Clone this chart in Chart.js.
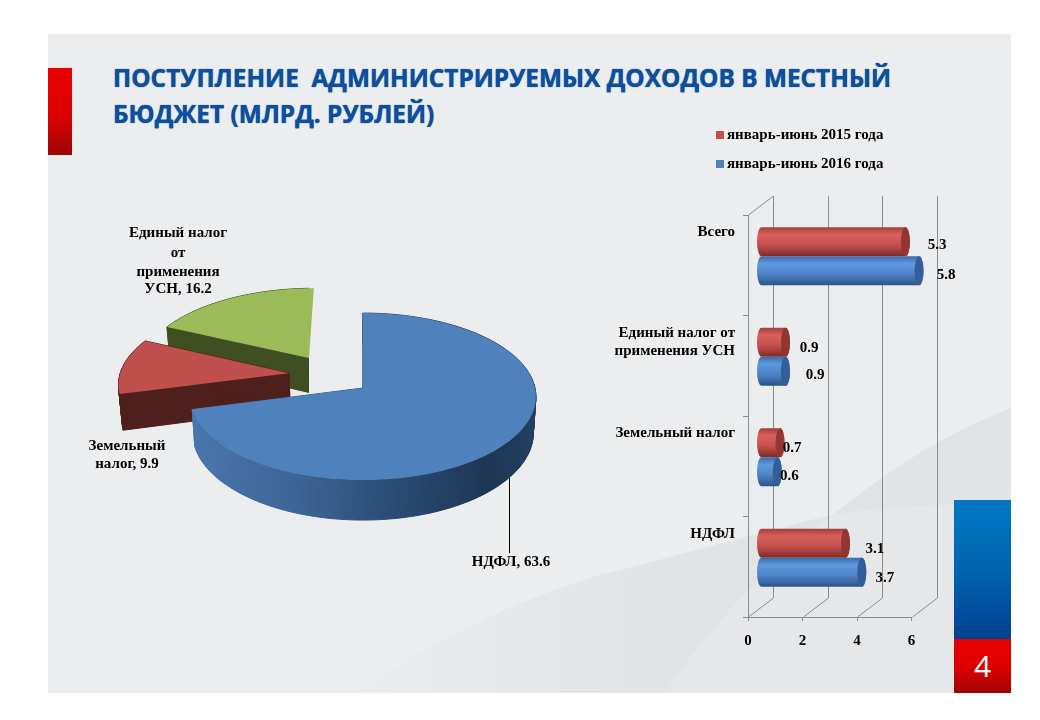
<!DOCTYPE html>
<html lang="ru">
<head>
<meta charset="utf-8">
<title>Поступление администрируемых доходов в местный бюджет</title>
<script src="https://cdn.jsdelivr.net/npm/chart.js@4"></script>
<style>
html,body{margin:0;padding:0;background:#fff;}
#slide{position:relative;width:1040px;height:720px;overflow:hidden;background:#fff;}
#bg{position:absolute;left:0;top:0;}
canvas{position:absolute;}
#pie{left:51px;top:188px;}
#bars{left:610px;top:120px;}
#title{position:absolute;left:113px;top:60px;margin:0;font:700 24.4px/36px "Open Sans",sans-serif;color:#0b4f9e;white-space:nowrap;text-shadow:0 0 1px #0a3f80;}
#page{position:absolute;left:954px;top:639px;width:57px;height:54px;text-align:center;color:#fff;font:400 30px/54px "Open Sans",sans-serif;}
</style>
</head>
<body>
<div id="slide">
<svg id="bg" width="1040" height="720" xmlns="http://www.w3.org/2000/svg">
<defs>
<linearGradient id="redG" x1="0" y1="0" x2="0" y2="1"><stop offset="0" stop-color="#e80000"/><stop offset=".55" stop-color="#dc0000"/><stop offset="1" stop-color="#9c0606"/></linearGradient>
<linearGradient id="blueG" x1="0" y1="0" x2="0" y2="1"><stop offset="0" stop-color="#0078c4"/><stop offset=".5" stop-color="#0064b0"/><stop offset="1" stop-color="#004190"/></linearGradient>
<linearGradient id="swoosh" x1="350" y1="0" x2="680" y2="0" gradientUnits="userSpaceOnUse"><stop offset="0" stop-color="#ebecee"/><stop offset="1" stop-color="#e2e3e5"/></linearGradient>
</defs>
<rect x="48" y="34" width="963" height="659" fill="#ecedef"/>
<path d="M1011,408 C930,440 880,478 832,515 C760,532 680,555 600,575 C500,605 420,650 355,693 L1011,693 Z" fill="url(#swoosh)"/>
<path d="M1011,503 C920,505 870,508 832,515 C760,570 700,640 665,693 L1011,693 Z" fill="#e6e7e9"/>
<rect x="48" y="68" width="24" height="87" fill="url(#redG)"/>
<rect x="954" y="500" width="57" height="139" fill="url(#blueG)"/>
<rect x="954" y="639" width="57" height="54" fill="url(#redG)"/>
</svg>
<h1 id="title">ПОСТУПЛЕНИЕ&nbsp; АДМИНИСТРИРУЕМЫХ ДОХОДОВ В МЕСТНЫЙ<br>БЮДЖЕТ (МЛРД. РУБЛЕЙ)</h1>
<div id="page">4</div>
<canvas id="pie" width="624" height="400"></canvas>
<canvas id="bars" width="400" height="540"></canvas>
</div>
<script>
// ---- pie data ----
const pieLabels = ['НДФЛ', 'Земельный налог', 'Единый налог от применения УСН'];
const pieValues = [63.6, 9.9, 16.2];
const pieColors = ['#4f81bd', '#c0504d', '#9bbb59'];
const pieLabelLines = [['НДФЛ, 63.6'], ['Земельный', 'налог, 9.9'], ['Единый налог', 'от', 'применения', 'УСН, 16.2']];

// ---- bar data ----
const barCategories = ['Всего', ['', 'Единый налог от', 'применения УСН'], 'Земельный налог', 'НДФЛ'];
const series2015Label = 'январь-июнь 2015 года';
const series2016Label = 'январь-июнь 2016 года';
const series2015 = [5.3, 0.9, 0.7, 3.1];
const series2016 = [5.8, 0.9, 0.6, 3.7];
const xTickValues = [0, 2, 4, 6];

const LABEL_FONT = 'bold 15px "Liberation Serif", serif';

// ---- 3D pie ----
const persp = {a: 0.102, b: 82.6, depth: 36, shrink: 0.985};
const explode = [{x: 0, y: 0}, {x: -0.438, y: 0.183}, {x: -0.326, y: 0.377}];

function project(arc, X, Y, low) {
  const w = 1 + persp.a * Y;
  let sx = X * arc.outerRadius / w;
  let sy = -persp.b * Y / w;
  if (low) { sx *= persp.shrink; sy += persp.depth / w; }
  return [arc.x + sx, arc.y + sy];
}
function outline(arc, ex) {
  const pts = [[ex.x, ex.y]];
  const steps = Math.max(8, Math.round((arc.endAngle - arc.startAngle) * 40));
  for (let i = 0; i <= steps; i++) {
    const t = arc.startAngle + (arc.endAngle - arc.startAngle) * i / steps + Math.PI / 2;
    pts.push([ex.x + Math.sin(t), ex.y + Math.cos(t)]);
  }
  return pts;
}
const pie3d = {
  id: 'pie3d',
  beforeDatasetsDraw(chart) {
    const ctx = chart.ctx, arcs = chart.getDatasetMeta(0).data;
    const ox = chart.canvas.offsetLeft;
    const blueWall = ctx.createLinearGradient(190 - ox, 0, 540 - ox, 0);
    blueWall.addColorStop(0, '#4a76ae');
    blueWall.addColorStop(0.3, '#3d6596');
    blueWall.addColorStop(0.6, '#294a72');
    blueWall.addColorStop(0.85, '#1c3654');
    blueWall.addColorStop(1, '#223f62');
    const walls = [blueWall, '#4f1f1c', '#404f21'];
    [2, 1, 0].forEach(i => {
      const arc = arcs[i], pts = outline(arc, explode[i]);
      ctx.save();
      if (i === 2) {
        const ax = project(arc, explode[i].x, explode[i].y)[0];
        ctx.beginPath();
        ctx.rect(0, 0, ax, chart.height);
        ctx.clip();
      }
      ctx.fillStyle = walls[i];
      ctx.strokeStyle = walls[i];
      ctx.lineWidth = 1;
      for (let k = 0; k < pts.length; k++) {
        const p = pts[k], q = pts[(k + 1) % pts.length];
        ctx.beginPath();
        [project(arc, p[0], p[1]), project(arc, q[0], q[1]), project(arc, q[0], q[1], true), project(arc, p[0], p[1], true)]
          .forEach((c, n) => n ? ctx.lineTo(c[0], c[1]) : ctx.moveTo(c[0], c[1]));
        ctx.closePath(); ctx.fill(); ctx.stroke();
      }
      ctx.restore();
      ctx.beginPath();
      pts.forEach((p, n) => { const c = project(arc, p[0], p[1]); n ? ctx.lineTo(c[0], c[1]) : ctx.moveTo(c[0], c[1]); });
      ctx.closePath();
      ctx.fillStyle = arc.options.backgroundColor;
      ctx.fill();
    });
    return false;
  },
  afterDraw(chart) {
    const ctx = chart.ctx;
    const ox = chart.canvas.offsetLeft, oy = chart.canvas.offsetTop;
    const spots = [{x: 511, ys: [562]}, {x: 127, ys: [446, 464]}, {x: 178, ys: [233, 253, 272, 289]}];
    ctx.save();
    ctx.font = LABEL_FONT;
    ctx.fillStyle = '#000';
    ctx.textAlign = 'center';
    ctx.textBaseline = 'middle';
    pieLabelLines.forEach((lines, i) => lines.forEach((t, k) => ctx.fillText(t, spots[i].x - ox, spots[i].ys[k] - oy)));
    ctx.strokeStyle = '#000';
    ctx.lineWidth = 1;
    ctx.beginPath();
    ctx.moveTo(509.5 - ox, 478 - oy);
    ctx.lineTo(509.5 - ox, 553 - oy);
    ctx.stroke();
    ctx.restore();
  }
};
new Chart(document.getElementById('pie'), {
  type: 'pie',
  data: {labels: pieLabels, datasets: [{data: pieValues, backgroundColor: pieColors, borderWidth: 0}]},
  options: {
    responsive: false, animation: false, devicePixelRatio: 1,
    layout: {padding: {top: 28, bottom: 28}},
    plugins: {legend: {display: false}, tooltip: {enabled: false}}
  },
  plugins: [pie3d]
});

// ---- 3D cylinder bars ----
const SHIFT_X = 13, SHIFT_Y = -9, DEPTH_X = 25, DEPTH_Y = 19, CAP = 4.5;
const nudge = [
  {x: [44.6, 36.5, 25, 42.5], y: [3.5, 6, 5, 6]},
  {x: [40, 42.5, 25, 36], y: [4.5, 4, 4, 6]}
];
const tones = [
  {stops: ['#a03f3c', '#d9605c', '#c4504c', '#7e2c2a'], cap: '#953532'},
  {stops: ['#3a6ba8', '#5f98de', '#4f83c8', '#2c5588'], cap: '#335f99'}
];
function cylGradient(ctx, top, bottom, t) {
  const g = ctx.createLinearGradient(0, top, 0, bottom);
  g.addColorStop(0, t.stops[0]);
  g.addColorStop(0.25, t.stops[1]);
  g.addColorStop(0.6, t.stops[2]);
  g.addColorStop(1, t.stops[3]);
  return g;
}
const box3d = {
  id: 'box3d',
  beforeDatasetsDraw(chart) {
    const ctx = chart.ctx, xs = chart.scales.x, a = chart.chartArea;
    ctx.save();
    ctx.strokeStyle = '#8a8b8d';
    ctx.lineWidth = 1;
    xTickValues.forEach(v => {
      const x = Math.round(xs.getPixelForValue(v)) + 0.5;
      ctx.beginPath();
      ctx.moveTo(x, a.bottom);
      ctx.lineTo(x + DEPTH_X, a.bottom - DEPTH_Y);
      ctx.lineTo(x + DEPTH_X, a.top - DEPTH_Y);
      ctx.stroke();
    });
    ctx.beginPath();
    const x0 = Math.round(a.left) + 0.5;
    ctx.moveTo(x0, a.top);
    ctx.lineTo(x0 + DEPTH_X, a.top - DEPTH_Y);
    ctx.stroke();
    ctx.restore();
    // bars
    chart.data.datasets.forEach((ds, di) => {
      chart.getDatasetMeta(di).data.forEach(bar => {
        const top = bar.y - bar.height / 2 + SHIFT_Y, bottom = bar.y + bar.height / 2 + SHIFT_Y;
        const x0b = bar.base + SHIFT_X, x1b = bar.x + SHIFT_X, cy = bar.y + SHIFT_Y, ry = bar.height / 2;
        ctx.save();
        ctx.fillStyle = cylGradient(ctx, top, bottom, tones[di]);
        ctx.beginPath();
        ctx.ellipse(x0b, cy, CAP, ry, 0, Math.PI / 2, Math.PI * 1.5);
        ctx.lineTo(x1b, top);
        ctx.ellipse(x1b, cy, CAP, ry, 0, -Math.PI / 2, Math.PI / 2);
        ctx.closePath();
        ctx.fill();
        ctx.fillStyle = tones[di].cap;
        ctx.beginPath();
        ctx.ellipse(x1b, cy, CAP, ry, 0, 0, Math.PI * 2);
        ctx.fill();
        ctx.restore();
      });
    });
    return false;
  },
  afterDraw(chart) {
    const ctx = chart.ctx;
    ctx.save();
    ctx.font = LABEL_FONT;
    ctx.textAlign = 'center';
    ctx.textBaseline = 'middle';
    ctx.fillStyle = '#000';
    chart.data.datasets.forEach((ds, di) => {
      chart.getDatasetMeta(di).data.forEach((bar, i) => {
        ctx.fillText(ds.data[i].toFixed(1), bar.x + nudge[di].x[i], bar.y + SHIFT_Y + nudge[di].y[i]);
      });
    });
    // legend, top to bottom
    const lx = 716 - chart.canvas.offsetLeft, lys = [135, 164].map(y => y - chart.canvas.offsetTop);
    ctx.textAlign = 'left';
    chart.data.datasets.forEach((ds, di) => {
      ctx.fillStyle = ds.backgroundColor;
      ctx.fillRect(lx, lys[di] - 4, 8, 8);
      ctx.fillStyle = '#000';
      ctx.fillText(ds.label, lx + 11, lys[di]);
    });
    ctx.restore();
  }
};
new Chart(document.getElementById('bars'), {
  type: 'bar',
  data: {
    labels: barCategories,
    datasets: [
      {label: series2015Label, data: series2015, backgroundColor: '#c0504d'},
      {label: series2016Label, data: series2016, backgroundColor: '#4f81bd'}
    ]
  },
  options: {
    indexAxis: 'y', responsive: false, animation: false, devicePixelRatio: 1,
    categoryPercentage: 0.577, barPercentage: 1,
    layout: {padding: {top: 95, right: 98.5, left: 0, bottom: 0}},
    scales: {
      x: {
        min: 0, max: 6,
        afterBuildTicks(s) { s.ticks = xTickValues.map(v => ({value: v})); },
        afterFit(s) { s.height = 43; },
        grid: {drawOnChartArea: false, tickLength: 4, color: '#8a8b8d'},
        border: {color: '#8a8b8d'},
        ticks: {color: '#000', padding: 11, maxRotation: 0, font: {family: '"Liberation Serif", serif', size: 15, weight: 'bold'}}
      },
      y: {
        afterFit(s) { s.width = 138; },
        grid: {drawOnChartArea: false, tickLength: 5, color: '#8a8b8d', offset: true},
        border: {color: '#8a8b8d'},
        ticks: {color: '#000', padding: 8, labelOffset: -33, autoSkip: false, font: {family: '"Liberation Serif", serif', size: 15, weight: 'bold'}}
      }
    },
    plugins: {legend: {display: false}, tooltip: {enabled: false}}
  },
  plugins: [box3d]
});
</script>
</body>
</html>
